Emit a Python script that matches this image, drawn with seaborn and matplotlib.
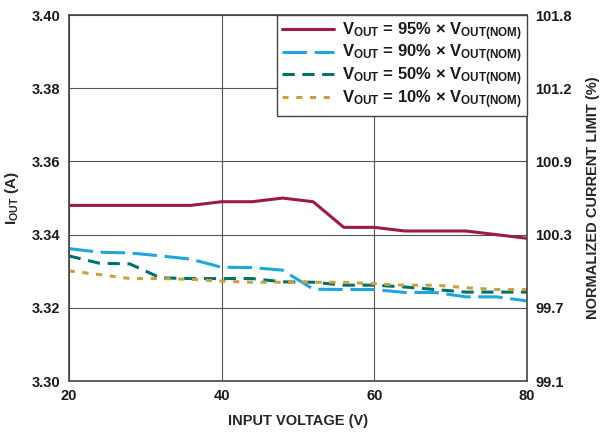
import matplotlib
matplotlib.use("Agg")
import matplotlib.pyplot as plt
import seaborn as sns
import pandas as pd

sns.set_theme(style="white")
plt.rcParams['font.family'] = ['Liberation Sans', 'DejaVu Sans']
plt.rcParams['mathtext.fontset'] = 'custom'
plt.rcParams['mathtext.rm'] = 'Liberation Sans:bold'
plt.rcParams['mathtext.bf'] = 'Liberation Sans:bold'
plt.rcParams['mathtext.it'] = 'Liberation Sans:bold'
plt.rcParams['text.color'] = '#1a1a1a'

vin = [20, 24, 28, 32, 36, 40, 44, 48, 52, 56, 60, 64, 68, 72, 76, 80]
i_95 = [3.348, 3.348, 3.348, 3.348, 3.348, 3.349, 3.349, 3.350, 3.349, 3.342, 3.342, 3.341, 3.341, 3.341, 3.340, 3.339]
i_90 = [3.3362, 3.3352, 3.335, 3.3342, 3.3333, 3.3311, 3.331, 3.3303, 3.3251, 3.325, 3.325, 3.3242, 3.3242, 3.323, 3.323, 3.3219]
i_50 = [3.3342, 3.3322, 3.332, 3.3282, 3.328, 3.328, 3.328, 3.3271, 3.327, 3.3262, 3.3262, 3.3257, 3.325, 3.3243, 3.3243, 3.3243]
i_10 = [3.3301, 3.3291, 3.328, 3.328, 3.3278, 3.3273, 3.327, 3.327, 3.327, 3.327, 3.3266, 3.3262, 3.3262, 3.3255, 3.325, 3.325]

labels = [r"$\mathbf{V_{OUT}}$ = 95% × $\mathbf{V_{OUT(NOM)}}$",
          r"$\mathbf{V_{OUT}}$ = 90% × $\mathbf{V_{OUT(NOM)}}$",
          r"$\mathbf{V_{OUT}}$ = 50% × $\mathbf{V_{OUT(NOM)}}$",
          r"$\mathbf{V_{OUT}}$ = 10% × $\mathbf{V_{OUT(NOM)}}$"]
colors = ["#A0174A", "#1EA7DE", "#00706A", "#C9A13A"]
dashes = [(None, None), (8, 2.5), (4, 2.5), (2, 2.5)]

left_ticks = [3.30, 3.32, 3.34, 3.36, 3.38, 3.40]
right_labels = ["99.1", "99.7", "100.3", "100.9", "101.2", "101.8"]
x_ticks = [20, 40, 60, 80]

fig = plt.figure(figsize=(6.03, 4.32), dpi=100)
ax = fig.add_axes([0.114, 0.118, 0.76, 0.847])

for ys, lab, c, d in zip([i_95, i_90, i_50, i_10], labels, colors, dashes):
    df = pd.DataFrame({"v": vin, "i": ys})
    sns.lineplot(data=df, x="v", y="i", ax=ax, color=c, lw=2.2, label=lab)
    l = ax.get_lines()[-1]
    if d[0] is not None:
        l.set_dashes(d)

ax.set_xlim(20, 80)
ax.set_ylim(3.30, 3.40)
ax.set_xticks(x_ticks)
ax.set_yticks(left_ticks)
ax.set_yticklabels([f"{t:.2f}" for t in left_ticks])
ax.grid(True, color="#555555", lw=0.8)
ax.set_axisbelow(True)
for s in ax.spines.values():
    s.set_color("#444444")
    s.set_linewidth(1.2)
ax.tick_params(length=0, labelsize=10.5, pad=6, labelcolor="#1a1a1a")
for t in ax.get_xticklabels() + ax.get_yticklabels():
    t.set_fontweight("bold")
ax.set_xlabel("INPUT VOLTAGE (V)", fontsize=10.5, fontweight="bold", labelpad=8)
ax.set_ylabel(r"I$_{\mathbf{OUT}}$ (A)", fontsize=11, fontweight="bold", labelpad=8)

ax2 = ax.twinx()
ax2.set_ylim(3.30, 3.40)
ax2.set_yticks(left_ticks)
ax2.set_yticklabels(right_labels)
ax2.tick_params(length=0, labelsize=10.5, pad=6, labelcolor="#1a1a1a")
for t in ax2.get_yticklabels():
    t.set_fontweight("bold")
ax2.set_ylabel("NORMALIZED CURRENT LIMIT (%)", fontsize=10.5, fontweight="bold", labelpad=10)
for s in ax2.spines.values():
    s.set_visible(False)
ax2.grid(False)

leg = ax.legend(loc="upper right", bbox_to_anchor=(1.0, 1.0), fontsize=12,
                frameon=True, fancybox=False, handlelength=3.1, handletextpad=0.5,
                borderpad=0.3, labelspacing=0.0, borderaxespad=0.0)
leg.get_frame().set_edgecolor("#444444")
leg.get_frame().set_linewidth(1.0)
leg.get_frame().set_alpha(1.0)
for t in leg.get_texts():
    t.set_fontweight("bold")

fig.savefig("out.png", dpi=100)
